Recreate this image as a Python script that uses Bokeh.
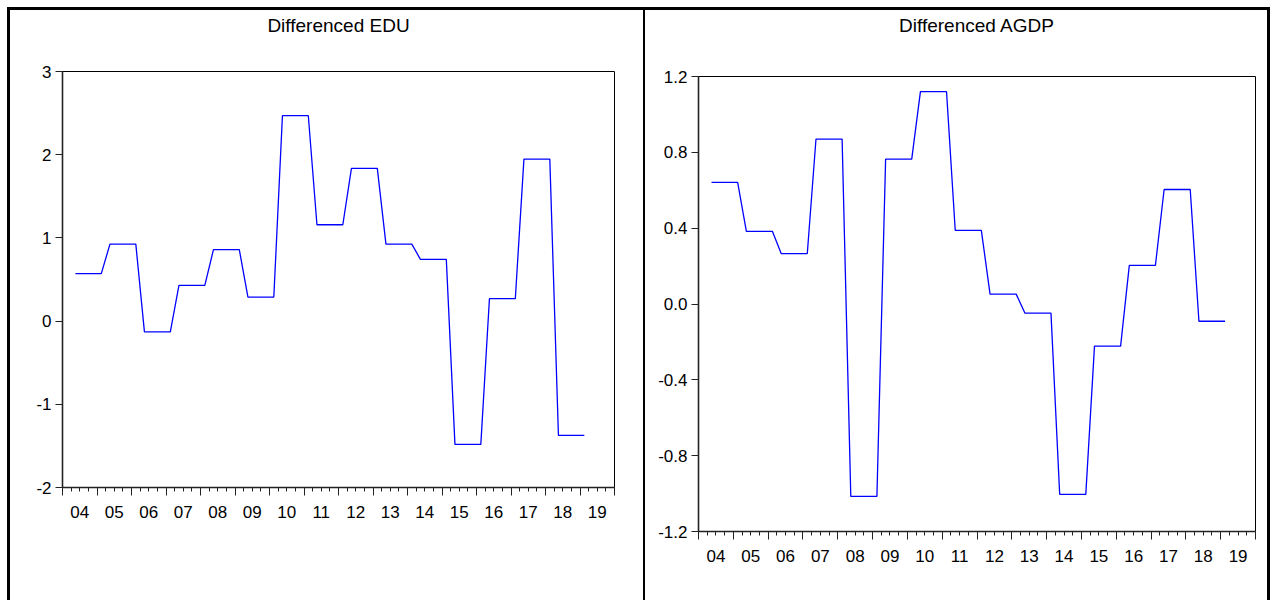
import numpy as np
from bokeh.plotting import figure
from bokeh.models import LinearAxis, FixedTicker, Range1d, Spacer, ColumnDataSource
from bokeh.layouts import row, column
from bokeh.embed import file_html
from bokeh.resources import INLINE

# ---------------- data ----------------
years = list(range(2004, 2020))
year_labels = ["04", "05", "06", "07", "08", "09", "10", "11",
               "12", "13", "14", "15", "16", "17", "18", "19"]

# annual differenced values (each shown over four quarters, Q2 of year t .. Q1 of year t+1)
edu_annual = [0.57, 0.925, -0.13, 0.43, 0.858, 0.289, 2.469, 1.158,
              1.835, 0.926, 0.742, -1.482, 0.269, 1.947, -1.374]
agdp_annual = [0.642, 0.383, 0.266, 0.87, -1.015, 0.764, 1.12, 0.388,
               0.052, -0.048, -1.004, -0.222, 0.204, 0.604, -0.091]

edu_ticks = [-2, -1, 0, 1, 2, 3]
edu_tick_labels = ["-2", "-1", "0", "1", "2", "3"]
agdp_ticks = [-1.2, -0.8, -0.4, 0.0, 0.4, 0.8, 1.2]
agdp_tick_labels = ["-1.2", "-0.8", "-0.4", "0.0", "0.4", "0.8", "1.2"]

FONT = "Liberation Sans"


def quarter_positions(n_years):
    # observation k (k = 1 .. 4*n) sits at the centre of quarter k counted from 2004Q1
    ks = np.arange(1, 4 * n_years + 1)
    return years[0] + (ks + 0.5) / 4.0


def make_panel(title, annual, yticks, ylabels, yr, w, h, mb, title_standoff):
    yq = np.repeat(np.array(annual, dtype=float), 4)
    xq = quarter_positions(len(annual))
    src = ColumnDataSource(dict(x=xq, y=yq))

    x0, x1 = years[0], years[-1] + 1
    p = figure(width=w, height=h, title=None,
               x_range=Range1d(x0, x1), y_range=Range1d(*yr),
               x_axis_type=None, y_axis_type=None,
               toolbar_location=None, output_backend="svg",
               min_border_left=mb[0], min_border_right=mb[1],
               min_border_top=mb[2], min_border_bottom=mb[3])
    p.frame_align = False
    p.outline_line_color = "black"
    p.outline_line_width = 1
    p.outline_line_alpha = 1.0
    p.background_fill_color = "white"
    p.border_fill_color = "white"

    # title: a label-only axis centred above the plot frame
    centre = (x0 + x1) / 2.0
    tax = LinearAxis(ticker=FixedTicker(ticks=[centre], minor_ticks=[]),
                     major_label_overrides={centre: title})
    tax.axis_line_color = None
    tax.major_tick_line_color = None
    tax.minor_tick_line_color = None
    tax.major_label_standoff = title_standoff
    tax.major_label_text_font = FONT
    tax.major_label_text_font_size = "19px"
    tax.major_label_text_color = "black"
    p.add_layout(tax, "above")

    yax = LinearAxis(ticker=FixedTicker(ticks=yticks, minor_ticks=[]),
                     major_label_overrides={t: l for t, l in zip(yticks, ylabels)})
    yax.axis_line_color = "#222222"
    yax.axis_line_width = 1.6
    yax.major_tick_line_color = "#222222"
    yax.major_tick_out = 7
    yax.major_tick_in = 0
    yax.major_label_standoff = 4
    yax.major_label_text_font = FONT
    yax.major_label_text_font_size = "17px"
    yax.major_label_text_color = "black"
    p.add_layout(yax, "left")

    bounds = [float(y) for y in range(x0, x1 + 1)]
    quarters = [y + q / 4.0 for y in years for q in (1, 2, 3)]
    ax1 = LinearAxis(ticker=FixedTicker(ticks=bounds, minor_ticks=quarters),
                     major_label_overrides={b: "" for b in bounds})
    ax1.axis_line_color = "#222222"
    ax1.axis_line_width = 1.6
    ax1.major_tick_line_color = "#222222"
    ax1.minor_tick_line_color = "#222222"
    ax1.major_tick_out = 8
    ax1.major_tick_in = 0
    ax1.minor_tick_out = 4
    ax1.minor_tick_in = 0
    ax1.major_label_text_font_size = "1px"
    ax1.major_label_standoff = 0
    p.add_layout(ax1, "below")

    mids = [y + 0.5 for y in years]
    ax2 = LinearAxis(ticker=FixedTicker(ticks=mids, minor_ticks=[]),
                     major_label_overrides={m: l for m, l in zip(mids, year_labels)})
    ax2.axis_line_color = None
    ax2.major_tick_line_color = None
    ax2.minor_tick_line_color = None
    ax2.major_label_standoff = 4
    ax2.major_label_text_font = FONT
    ax2.major_label_text_font_size = "17px"
    ax2.major_label_text_color = "black"
    p.add_layout(ax2, "below")

    p.line("x", "y", source=src, line_color="#0000ff", line_width=1.3)
    return p


H = 590
p1 = make_panel("Differenced EDU", edu_annual, edu_ticks, edu_tick_labels, (-2, 3),
                633, H, (52, 29, 61, 113), 30)
p2 = make_panel("Differenced AGDP", agdp_annual, agdp_ticks, agdp_tick_labels, (-1.2, 1.2),
                622, H, (53, 12, 66, 69), 35)

BLACK = {"background-color": "black"}
left_bar = Spacer(width=3, height=H, styles=BLACK)
divider = Spacer(width=2, height=H, styles=BLACK)
right_bar = Spacer(width=3, height=H, styles=BLACK)
top_bar = Spacer(width=3 + 633 + 2 + 622 + 3, height=3, styles=BLACK)

framed = column(top_bar, row(left_bar, p1, divider, p2, right_bar))
layout = column(Spacer(width=1270, height=7),
                row(Spacer(width=7, height=H + 3), framed))

open("out.html", "w").write(file_html(layout, INLINE))
